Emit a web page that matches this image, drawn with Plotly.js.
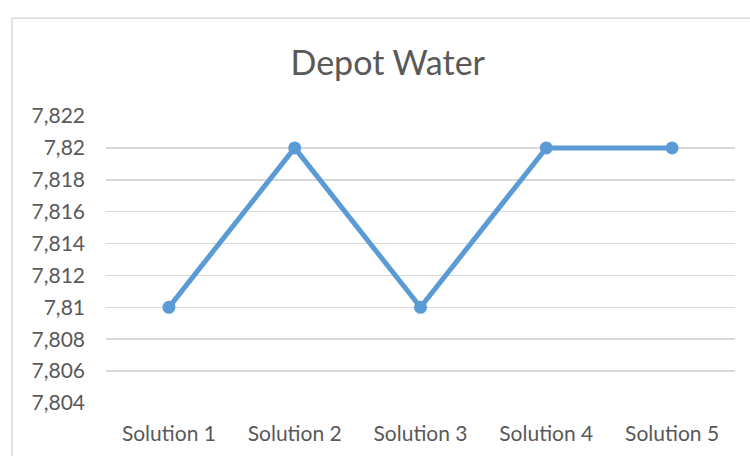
<!DOCTYPE html>
<html><head><meta charset="utf-8">
<script src="https://cdn.plot.ly/plotly-3.0.1.min.js"></script>
<style>html,body{margin:0;padding:0;background:#fff;}#chart{width:750px;height:456px;}</style>
</head><body><div id="chart"></div>
<script>
const categories = ["Solution 1", "Solution 2", "Solution 3", "Solution 4", "Solution 5"];
const values = [7.81, 7.82, 7.81, 7.82, 7.82];
const yTickVals = [7.804, 7.806, 7.808, 7.81, 7.812, 7.814, 7.816, 7.818, 7.82, 7.822];
const yTickText = ["7,804", "7,806", "7,808", "7,81", "7,812", "7,814", "7,816", "7,818", "7,82", "7,822"];

const font = "Lato, 'Open Sans', sans-serif";
Plotly.newPlot("chart", [{
  x: categories, y: values, type: "scatter", mode: "lines+markers",
  line: {color: "#5B9BD5", width: 5},
  marker: {color: "#5B9BD5", size: 13},
  hoverinfo: "skip"
}], {
  width: 750, height: 456,
  margin: {l: 106, r: 15, t: 116, b: 53},
  paper_bgcolor: "#fff", plot_bgcolor: "#fff",
  separators: ",.",
  showlegend: false,
  title: {text: "Depot Water", x: 0.517, xanchor: "center", y: 0.862, yanchor: "middle",
          font: {family: font, size: 34, color: "#595959"}},
  xaxis: {type: "category", range: [-0.5, 4.5], showgrid: false, zeroline: false,
          showline: false, ticks: "", ticklabelstandoff: 16,
          tickfont: {family: font, size: 21, color: "#595959"}},
  yaxis: {range: [7.804, 7.822], tickvals: yTickVals, ticktext: yTickText,
          showgrid: true, gridcolor: "#D9D9D9", gridwidth: 1.5, zeroline: false,
          showline: false, ticks: "", ticklabelstandoff: 20,
          tickfont: {family: font, size: 21, color: "#595959"}},
  shapes: [{type: "rect", xref: "paper", yref: "paper",
            x0: -0.1494, x1: 1.2, y0: -0.5, y1: 1.341,
            line: {color: "#D9D9D9", width: 1.5}, fillcolor: "rgba(0,0,0,0)", layer: "below"}]
}, {staticPlot: true, displayModeBar: false});
</script></body></html>
